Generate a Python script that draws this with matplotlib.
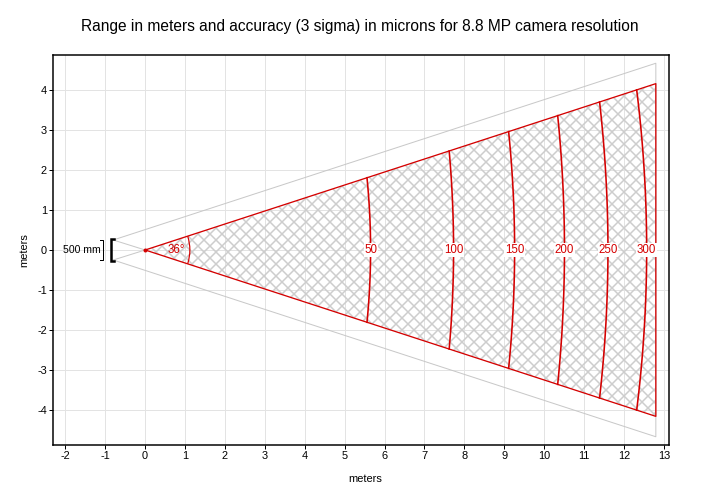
import numpy as np
import matplotlib
matplotlib.use("Agg")
import matplotlib.pyplot as plt
from matplotlib.patches import Polygon, Arc

plt.rcParams['font.family'] = ['Liberation Sans', 'DejaVu Sans']
plt.rcParams['hatch.linewidth'] = 1.5
plt.rcParams['axes.unicode_minus'] = False

# ---- data ----
title = "Range in meters and accuracy (3 sigma) in microns for 8.8 MP camera resolution"
x_ticks = list(range(-2, 14))
y_ticks = list(range(-4, 5))
half_angle_deg = 18.0          # 36 degree field of view
max_range = 12.8               # meters
baseline = 0.5                 # 500 mm
baseline_x = -0.8
accuracy_labels = [50, 100, 150, 200, 250, 300]
contour_x_center = [5.65, 7.73, 9.26, 10.51, 11.60, 12.57]
contour_x_edge = [5.56, 7.62, 9.11, 10.34, 11.39, 12.32]

RED = '#d40000'
GREY = '#c8c8c8'

fig = plt.figure(figsize=(724 / 72, 499 / 72), dpi=72)
ax = fig.add_axes([53 / 724, 1 - 445 / 499, (669 - 53) / 724, (445 - 55) / 499])
ax.set_xlim(-2.31, 13.13)
ax.set_ylim(-4.875, 4.875)

t = np.tan(np.radians(half_angle_deg))

# grid
ax.set_xticks(x_ticks)
ax.set_yticks(y_ticks)
ax.grid(True, color='#e3e3e3', lw=1.0, zorder=0)
ax.set_axisbelow(True)

# outer grey cone (from baseline ends)
b = baseline / 2
y_far_outer = b + (max_range - baseline_x) * t
ax.plot([baseline_x, max_range, max_range, baseline_x],
        [b, y_far_outer, -y_far_outer, -b], color=GREY, lw=1.0, zorder=2)
# inner grey lines from baseline ends to apex
ax.plot([baseline_x, 0, baseline_x], [b, 0, -b], color=GREY, lw=1.0, zorder=2)

# hatched field of view
y_far = max_range * t
cone = Polygon([[0, 0], [max_range, y_far], [max_range, -y_far]], closed=True,
               facecolor='none', edgecolor='#cdcdcd', lw=0, hatch='xx', zorder=3)
ax.add_patch(cone)
ax.plot([0, max_range, max_range, 0], [0, y_far, -y_far, 0], color=RED, lw=1.3, zorder=5)
ax.plot([0], [0], marker='o', ms=3, color=RED, zorder=6)

# accuracy contours
for lab, xc, xe in zip(accuracy_labels, contour_x_center, contour_x_edge):
    ye = xe * t
    yy = np.linspace(-ye, ye, 60)
    xx = xc - (xc - xe) * (yy / ye) ** 2
    ax.plot(xx, yy, color=RED, lw=1.6, zorder=5)
    ax.text(xc, 0, str(lab), color=RED, fontsize=11.5, ha='center', va='center', zorder=7,
            bbox=dict(boxstyle='square,pad=0.05', fc='white', ec='none'))

# 36 degree arc
ax.add_patch(Arc((0, 0), 2.24, 2.24, theta1=-half_angle_deg, theta2=half_angle_deg,
                 color=RED, lw=1.2, zorder=5))
ax.text(0.78, 0, "36°", color=RED, fontsize=11.5, ha='center', va='center', zorder=7)

# baseline markers
bx = -0.86
ax.plot([bx + 0.07, bx, bx, bx + 0.07], [b + 0.02, b + 0.02, -b - 0.02, -b - 0.02],
        color='black', lw=2.5, solid_joinstyle='miter', zorder=6)
tx = -1.05
ax.plot([tx - 0.08, tx, tx, tx - 0.08], [b, b, -b, -b], color='black', lw=1.0, zorder=6)
ax.text(-1.12, 0, "500 mm", fontsize=10.5, ha='right', va='center', zorder=7)

# axes styling
for s in ax.spines.values():
    s.set_linewidth(1.5)
    s.set_color('black')
ax.tick_params(direction='out', length=4, width=1, labelsize=11, pad=2)
ax.set_xlabel("meters", fontsize=11)
ax.set_ylabel("meters", fontsize=11, labelpad=8)
ax.xaxis.set_label_coords((365 - 53) / (669 - 53), -0.075)

fig.text(360 / 724, 1 - 27 / 499, title, fontsize=15.5, ha='center', va='center')

fig.savefig("out.png", dpi=72, facecolor='white')
